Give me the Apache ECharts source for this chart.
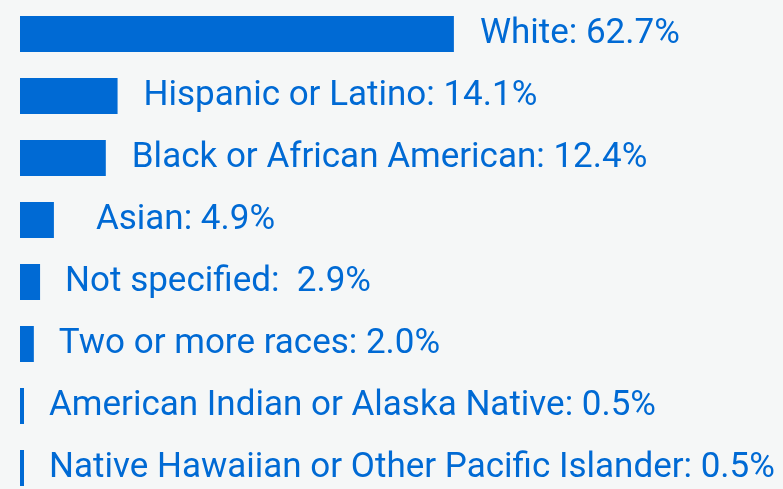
<!DOCTYPE html>
<html>
<head>
<meta charset="utf-8">
<script src="https://cdn.jsdelivr.net/npm/echarts@6/dist/echarts.min.js"></script>
<style>
  html, body { margin: 0; padding: 0; background: #f5f7f7; overflow: hidden; }
  #chart { width: 783px; height: 500px; }
</style>
</head>
<body>
<div id="chart"></div>
<script>
// Race / ethnicity breakdown, percent of total
const categories = [
  'White',
  'Hispanic or Latino',
  'Black or African American',
  'Asian',
  'Not specified',
  'Two or more races',
  'American Indian or Alaska Native',
  'Native Hawaiian or Other Pacific Islander'
];
const values = [62.7, 14.1, 12.4, 4.9, 2.9, 2.0, 0.5, 0.5];
const labelTexts = [
  'White: 62.7%',
  'Hispanic or Latino: 14.1%',
  'Black or African American: 12.4%',
  'Asian: 4.9%',
  'Not specified:  2.9%',
  'Two or more races: 2.0%',
  'American Indian or Alaska Native: 0.5%',
  'Native Hawaiian or Other Pacific Islander: 0.5%'
];

const BLUE = '#006ad4';
const labelGap = [26, 26, 26, 42, 25, 25, 25, 25];

const chart = echarts.init(document.getElementById('chart'), null, { renderer: 'canvas' });

chart.setOption({
  backgroundColor: '#f5f7f7',
  animation: false,
  grid: { left: 20, top: 3, width: 692, height: 496, containLabel: false },
  xAxis: {
    type: 'value', min: 0, max: 100,
    show: false
  },
  yAxis: {
    type: 'category',
    data: categories,
    inverse: true,
    show: false
  },
  series: [{
    type: 'bar',
    barWidth: 36,
    barMinHeight: 4,
    itemStyle: { color: BLUE },
    data: values.map((v, i) => ({
      value: v,
      label: {
        show: true,
        position: 'right',
        distance: labelGap[i],
        formatter: () => labelTexts[i],
        color: BLUE,
        fontFamily: 'Roboto',
        fontSize: 35
      }
    }))
  }]
});
</script>
</body>
</html>
